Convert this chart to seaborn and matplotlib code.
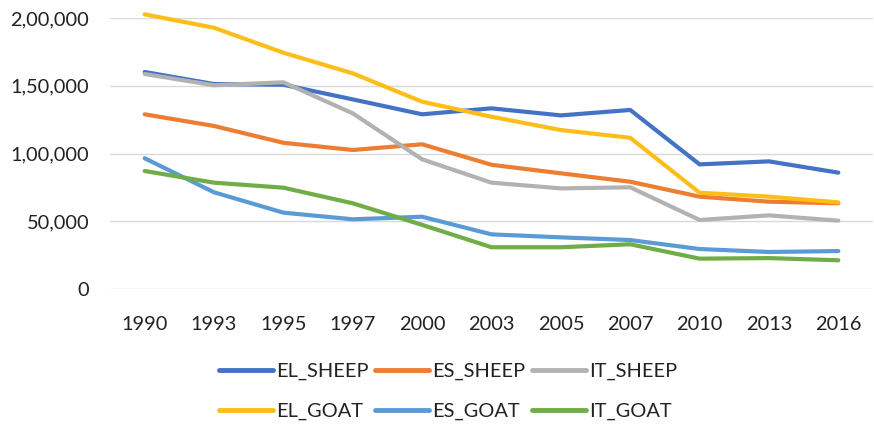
import matplotlib
matplotlib.use("Agg")
import matplotlib.pyplot as plt
from matplotlib.ticker import FuncFormatter, MultipleLocator
import pandas as pd
import seaborn as sns

# Flock sizes by country and species
years = ["1990", "1993", "1995", "1997", "2000", "2003", "2005", "2007", "2010", "2013", "2016"]
el_sheep = [160200, 151300, 150800, 140000, 129000, 133400, 128200, 132200, 92100, 94300, 86000]
es_sheep = [129000, 120400, 108000, 102700, 106900, 91800, 85500, 79300, 68300, 64600, 63400]
it_sheep = [158700, 150400, 152600, 129700, 95800, 78600, 74400, 75200, 51100, 54500, 50600]
el_goat = [202700, 192800, 174400, 159200, 138300, 127200, 117400, 111700, 71200, 68300, 64100]
es_goat = [96600, 71500, 56500, 51600, 53500, 40500, 38300, 36300, 29700, 27500, 28200]
it_goat = [87200, 78600, 74900, 63400, 47500, 31000, 31000, 33200, 22600, 23000, 21400]

series_names = ["EL_SHEEP", "ES_SHEEP", "IT_SHEEP", "EL_GOAT", "ES_GOAT", "IT_GOAT"]
series_values = [el_sheep, es_sheep, it_sheep, el_goat, es_goat, it_goat]
colors = ["#4472C4", "#ED7D31", "#B2B2B2", "#FDBE1A", "#5B9BD5", "#70AD47"]

df = pd.concat(
    [pd.DataFrame({"year": years, "value": v, "series": n})
     for n, v in zip(series_names, series_values)],
    ignore_index=True,
)

sns.set_theme(style="white")
plt.rcParams["font.family"] = ["Lato", "DejaVu Sans"]

fig = plt.figure(figsize=(8.74, 4.25), dpi=100)
ax = fig.add_axes([110 / 874, 1 - 289.3 / 425, 763 / 874, (289.3 - 18) / 425])

sns.lineplot(
    data=df, x="year", y="value", hue="series", hue_order=series_names,
    palette=colors, linewidth=3.0, sort=False, ax=ax, legend=True,
)
for line in ax.get_lines():
    line.set_solid_capstyle("round")
    line.set_solid_joinstyle("round")
    line.set_clip_on(False)


def indian_format(v, _pos=None):
    n = int(round(v))
    s = str(abs(n))
    if len(s) > 3:
        head, tail = s[:-3], s[-3:]
        groups = []
        while len(head) > 2:
            groups.insert(0, head[-2:])
            head = head[:-2]
        if head:
            groups.insert(0, head)
        s = ",".join(groups + [tail])
    return ("-" if n < 0 else "") + s


ax.set_ylim(0, 200000)
ax.set_xlim(-0.5, len(years) - 0.5)
ax.yaxis.set_major_locator(MultipleLocator(50000))
ax.yaxis.set_major_formatter(FuncFormatter(indian_format))
ax.grid(axis="y", color="#D9D9D9", linewidth=1.0)
ax.grid(axis="x", visible=False)
ax.set_axisbelow(True)
for sp in ax.spines.values():
    sp.set_visible(False)
ax.tick_params(axis="y", length=0, pad=15, labelsize=14.4, labelcolor="#222222")
ax.tick_params(axis="x", length=0, pad=19, labelsize=14.4, labelcolor="#222222")
ax.set_xlabel("")
ax.set_ylabel("")

handles, labels = ax.get_legend_handles_labels()
ax.get_legend().remove()
lookup = dict(zip(labels, handles))
order = ["EL_SHEEP", "EL_GOAT", "ES_SHEEP", "ES_GOAT", "IT_SHEEP", "IT_GOAT"]
leg = fig.legend(
    [lookup[k] for k in order], order, loc="center",
    bbox_to_anchor=(0.5126, 0.079), ncol=3, frameon=False,
    fontsize=14.4, handlelength=2.7, handletextpad=0.15,
    columnspacing=0.35, labelspacing=1.15, borderpad=0,
)
for h in leg.get_lines():
    h.set_linewidth(3.5)
    h.set_solid_capstyle("round")
for t in leg.get_texts():
    t.set_color("#222222")

fig.savefig("out.png", dpi=100)
